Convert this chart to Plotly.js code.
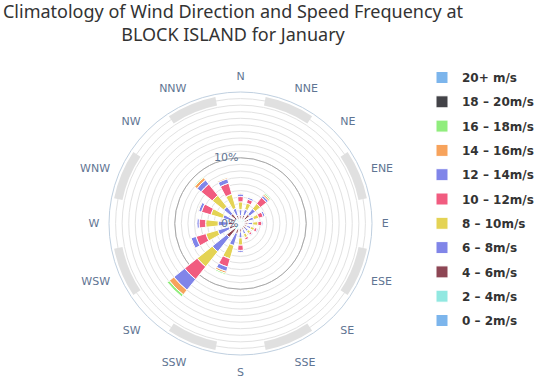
<!DOCTYPE html>
<html>
<head>
<meta charset="utf-8">
<script src="https://cdn.plot.ly/plotly-3.0.1.min.js"></script>
<style>html,body{margin:0;padding:0;background:#fff;}#chart{width:541px;height:381px;}</style>
</head>
<body>
<div id="chart"></div>
<script>
// Direction categories
var directions = ['N','NNE','NE','ENE','E','ESE','SE','SSE','S','SSW','SW','WSW','W','WNW','NW','NNW'];
// Speed bins (legend labels)
var speedBins = ['0 – 2m/s','2 – 4m/s','4 – 6m/s','6 – 8m/s','8 – 10m/s','10 – 12m/s','12 – 14m/s','14 – 16m/s','16 – 18m/s','18 – 20m/s','20+ m/s'];
// Frequency (%) per direction for each speed bin
var s0_2   = [0.35,0.35,0.40,0.30,0.30,0.30,0.30,0.30,0.35,0.40,0.50,0.40,0.40,0.40,0.40,0.35];
var s2_4   = [0.35,0.40,0.50,0.40,0.35,0.30,0.30,0.30,0.40,0.50,0.70,0.50,0.50,0.50,0.50,0.40];
var s4_6   = [0.50,0.60,0.90,0.60,0.50,0.45,0.40,0.45,0.55,0.70,1.50,0.90,1.00,0.70,1.00,0.55];
var s6_8   = [0.90,0.90,1.10,0.80,0.70,0.60,0.50,0.60,0.90,1.90,2.80,1.80,1.50,1.20,1.40,1.10];
var s8_10  = [1.20,1.00,1.00,0.80,0.80,0.60,0.50,0.60,1.10,2.10,2.95,1.90,1.90,1.90,2.20,2.25];
var s10_12 = [0.80,0.60,1.20,0.70,0.60,0.40,0.30,0.35,0.80,1.30,2.45,1.55,1.00,1.50,2.20,1.75];
var s12_14 = [0.40,0.30,0.35,0.30,0.20,0.15,0.10,0.10,0.30,0.70,2.10,0.80,0.35,0.45,0.80,0.70];
var s14_16 = [0.15,0.10,0.25,0.10,0.05,0.00,0.00,0.00,0.10,0.30,0.90,0.15,0.05,0.15,0.45,0.20];
var s16_18 = [0.05,0.05,0.20,0.00,0.00,0.00,0.00,0.00,0.00,0.20,0.40,0.05,0.00,0.05,0.15,0.05];
var s18_20 = [0,0,0,0,0,0,0,0,0,0,0,0,0,0,0,0];
var s20p   = [0,0,0,0,0,0,0,0,0,0,0,0,0,0,0,0];
var radialTickVals = [0, 10];
var radialTickText = ['0%', '10%'];

var seriesValues = [s0_2,s2_4,s4_6,s6_8,s8_10,s10_12,s12_14,s14_16,s16_18,s18_20,s20p];
var colors = ['#7cb5ec','#91e8e1','#8d4654','#8085e8','#e4d354','#f15c80','#8085e9','#f7a35c','#90ed7d','#434348','#7cb5ec'];

var step = 360 / directions.length;
var thetas = directions.map(function(d, i){ return i * step; });

// background alternating bands on the outer ring (odd sectors)
var bandDirs = directions.filter(function(d, i){ return i % 2 === 1; });
var bandTheta = bandDirs.map(function(d){ return directions.indexOf(d) * step; });
var bandInner = 18.3, bandThick = 1.3;

var traces = [];
traces.push({
  type: 'barpolar', subplot: 'polar',
  theta: bandTheta,
  r: bandTheta.map(function(){ return bandThick; }),
  base: bandTheta.map(function(){ return bandInner; }),
  width: step,
  marker: {color: '#e0e0e0', line: {width: 0}},
  showlegend: false, hoverinfo: 'skip'
});

seriesValues.forEach(function(vals, k){
  traces.push({
    type: 'barpolar', subplot: 'polar2',
    name: speedBins[k],
    legendgroup: 'g' + k,
    legendrank: 1000 - k,
    theta: thetas,
    r: vals,
    width: 12.5,
    marker: {color: colors[k], line: {color: '#ffffff', width: 1}},
    hovertemplate: '%{r}%<extra>' + speedBins[k] + '</extra>'
  });
});

var dom = {x: [109/541, 372/541], y: [1 - 355/381, 1 - 92/381]};
var labelColor = '#5f7593';

var layout = {
  width: 541, height: 381,
  margin: {l: 0, r: 0, t: 0, b: 0},
  paper_bgcolor: '#ffffff',
  font: {family: 'DejaVu Sans, sans-serif', size: 11, color: labelColor},
  title: {
    text: 'Climatology of Wind Direction and Speed Frequency at<br>BLOCK ISLAND for January',
    font: {family: 'Noto Sans, DejaVu Sans, sans-serif', size: 18, color: '#333333'},
    x: 233/541, xanchor: 'center', xref: 'paper',
    y: 1 - 18/381, yanchor: 'top', yref: 'container'
  },
  polar: {
    domain: dom,
    bgcolor: '#ffffff',
    angularaxis: {
      direction: 'clockwise', rotation: 90,
      tickmode: 'array', tickvals: thetas, ticktext: directions,
      showgrid: false, showline: true, linecolor: '#C0D0E0', linewidth: 1,
      ticks: 'outside', ticklen: 7, tickcolor: 'rgba(0,0,0,0)',
      tickfont: {family: 'DejaVu Sans, sans-serif', size: 11, color: labelColor}
    },
    radialaxis: {
      range: [0, 20], tick0: 0, dtick: 1,
      showgrid: true, gridcolor: '#e2e2e2', gridwidth: 1,
      showline: false, showticklabels: false, ticks: ''
    }
  },
  polar2: {
    domain: dom,
    bgcolor: 'rgba(0,0,0,0)',
    barmode: 'stack',
    angularaxis: {
      direction: 'clockwise', rotation: 90,
      tickmode: 'array', tickvals: thetas, ticktext: directions,
      showgrid: false, showline: false, showticklabels: false, ticks: ''
    },
    radialaxis: {
      range: [0, 20], tickmode: 'array', tickvals: radialTickVals, ticktext: radialTickText,
      showgrid: true, gridcolor: '#a8a8a8', gridwidth: 1,
      showline: false, ticks: '', angle: 90, side: 'counterclockwise', tickangle: 90,
      tickfont: {family: 'DejaVu Sans, sans-serif', size: 11, color: labelColor}
    }
  },
  legend: {
    x: 422/541, xanchor: 'left', y: 1 - 63/381, yanchor: 'top',
    traceorder: 'grouped', tracegroupgap: 5.3,
    font: {family: 'DejaVu Sans, sans-serif', size: 12, color: '#333333', weight: 'bold'},
    bgcolor: 'rgba(0,0,0,0)'
  },
  showlegend: true
};

Plotly.newPlot('chart', traces, layout, {displayModeBar: false, staticPlot: true});
</script>
</body>
</html>
